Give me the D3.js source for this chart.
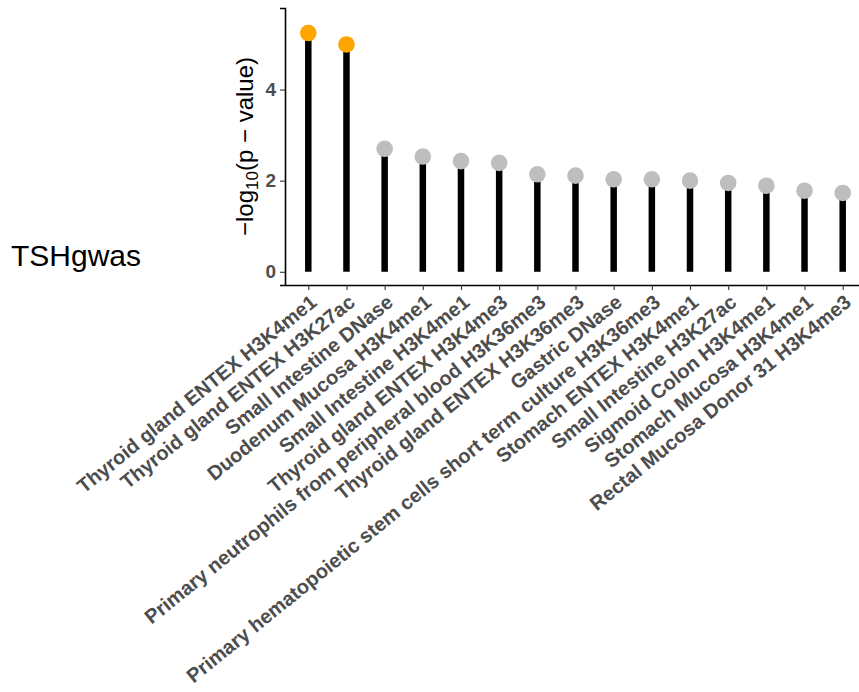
<!DOCTYPE html>
<html>
<head>
<meta charset="utf-8">
<script src="https://cdn.jsdelivr.net/npm/d3@7"></script>
<style>
  html, body { margin: 0; padding: 0; background: #fff; }
  svg { display: block; }
</style>
</head>
<body>
<svg id="chart" width="859" height="692"></svg>
<script>
const categories = [
  "Thyroid gland ENTEX H3K4me1",
  "Thyroid gland ENTEX H3K27ac",
  "Small Intestine DNase",
  "Duodenum Mucosa H3K4me1",
  "Small Intestine H3K4me1",
  "Thyroid gland ENTEX H3K4me3",
  "Primary neutrophils from peripheral blood H3K36me3",
  "Thyroid gland ENTEX H3K36me3",
  "Gastric DNase",
  "Primary hematopoietic stem cells short term culture H3K36me3",
  "Stomach ENTEX H3K4me1",
  "Small Intestine H3K27ac",
  "Sigmoid Colon H3K4me1",
  "Stomach Mucosa H3K4me1",
  "Rectal Mucosa Donor 31 H3K4me3"
];
const values = [5.24, 4.99, 2.70, 2.53, 2.43, 2.39, 2.14, 2.11, 2.03, 2.03, 2.00, 1.95, 1.89, 1.78, 1.73];
const significant = [true, true, false, false, false, false, false, false, false, false, false, false, false, false, false];
const yTicks = [0, 2, 4];
const rowLabel = "TSHgwas";

const svg = d3.select("#chart");
const font = "'Liberation Sans', Arial, Helvetica, sans-serif";

const x = d3.scalePoint().domain(categories).range([285.4, 865.6]).padding(0.6);
const y = d3.scaleLinear().domain([-0.29, 5.79]).range([285, 8]);

// row label
svg.append("text")
  .attr("x", 11).attr("y", 265.5)
  .attr("font-family", font).attr("font-size", 30)
  .attr("fill", "#000")
  .text(rowLabel);

// y axis title
const yt = svg.append("text")
  .attr("transform", `translate(253,146.5) rotate(-90)`)
  .attr("text-anchor", "middle")
  .attr("font-family", font).attr("font-size", 24)
  .attr("fill", "#000");
yt.append("tspan").text("\u2212log");
yt.append("tspan").attr("font-size", 17).attr("dy", 5).text("10");
yt.append("tspan").attr("dy", -5).text("(p \u2212 value)");

// stems
svg.append("g").selectAll("line")
  .data(categories)
  .join("line")
  .attr("x1", d => x(d)).attr("x2", d => x(d))
  .attr("y1", y(0)).attr("y2", (d, i) => y(values[i]))
  .attr("stroke", "#000").attr("stroke-width", 6.5);

// points
svg.append("g").selectAll("circle")
  .data(categories)
  .join("circle")
  .attr("cx", d => x(d)).attr("cy", (d, i) => y(values[i]))
  .attr("r", 8.3)
  .attr("fill", (d, i) => significant[i] ? "#FFA500" : "#BEBEBE");

// y axis
const yAxis = svg.append("g")
  .attr("transform", "translate(285,0)")
  .call(d3.axisLeft(y).tickValues(yTicks).tickSize(5).tickPadding(4).tickFormat(d3.format("d")));
yAxis.select(".domain").attr("stroke", "#000").attr("stroke-width", 1.6);
yAxis.selectAll(".tick line").attr("stroke", "#333").attr("stroke-width", 1.1);
yAxis.selectAll(".tick text")
  .attr("font-family", font).attr("font-size", 19).attr("font-weight", "bold")
  .attr("fill", "#4D4D4D");

// x axis
const xAxis = svg.append("g")
  .attr("transform", "translate(0,285)")
  .call(d3.axisBottom(x).tickSize(5).tickSizeOuter(0));
xAxis.select(".domain").attr("stroke", "#000").attr("stroke-width", 1.6);
xAxis.selectAll(".tick line").attr("stroke", "#333").attr("stroke-width", 1.1);
xAxis.selectAll(".tick text")
  .attr("font-family", font).attr("font-size", 20).attr("font-weight", "bold")
  .attr("fill", "#4D4D4D")
  .attr("text-anchor", "end")
  .attr("x", 0).attr("y", 0).attr("dy", "0.74em")
  .attr("transform", "translate(0,8) rotate(-39)");
</script>
</body>
</html>
